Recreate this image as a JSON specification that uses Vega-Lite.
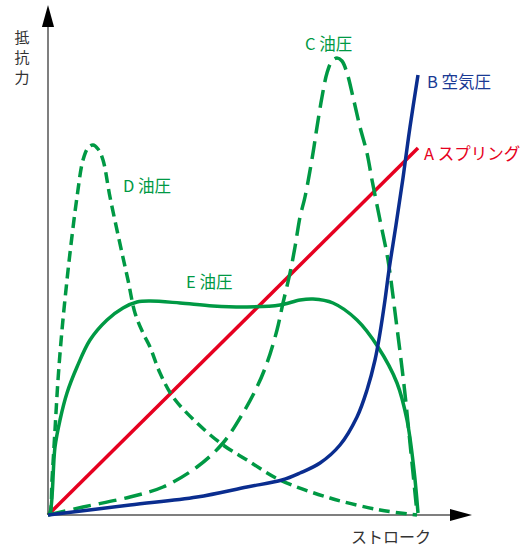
{
  "$schema": "https://vega.github.io/schema/vega-lite/v6.json",
  "width": 524,
  "height": 550,
  "autosize": {"type": "none"},
  "padding": 0,
  "view": {"stroke": null},
  "config": {"font": "Noto Sans CJK JP"},
  "datasets": {
    "curves": [
      {"s": "A", "x": 0, "y": 0}, {"s": "A", "x": 370, "y": 367},

      {"s": "B", "x": 0, "y": 0}, {"s": "B", "x": 82, "y": 10}, {"s": "B", "x": 149, "y": 18},
      {"s": "B", "x": 199, "y": 28}, {"s": "B", "x": 234, "y": 35}, {"s": "B", "x": 252, "y": 42},
      {"s": "B", "x": 272, "y": 52}, {"s": "B", "x": 292, "y": 70}, {"s": "B", "x": 309, "y": 98},
      {"s": "B", "x": 319, "y": 125}, {"s": "B", "x": 327, "y": 155}, {"s": "B", "x": 332, "y": 182},
      {"s": "B", "x": 337, "y": 215}, {"s": "B", "x": 341, "y": 245}, {"s": "B", "x": 348, "y": 290},
      {"s": "B", "x": 355, "y": 337}, {"s": "B", "x": 362, "y": 388}, {"s": "B", "x": 370, "y": 440},

      {"s": "C", "x": 0, "y": 0}, {"s": "C", "x": 35, "y": 8}, {"s": "C", "x": 82, "y": 18},
      {"s": "C", "x": 115, "y": 28}, {"s": "C", "x": 149, "y": 48}, {"s": "C", "x": 175, "y": 72},
      {"s": "C", "x": 195, "y": 102}, {"s": "C", "x": 209, "y": 128}, {"s": "C", "x": 219, "y": 152},
      {"s": "C", "x": 229, "y": 185}, {"s": "C", "x": 235, "y": 212}, {"s": "C", "x": 242, "y": 242},
      {"s": "C", "x": 247, "y": 268}, {"s": "C", "x": 252, "y": 298}, {"s": "C", "x": 257, "y": 318},
      {"s": "C", "x": 265, "y": 362}, {"s": "C", "x": 269, "y": 388}, {"s": "C", "x": 274, "y": 418},
      {"s": "C", "x": 279, "y": 442}, {"s": "C", "x": 284, "y": 454}, {"s": "C", "x": 289, "y": 457},
      {"s": "C", "x": 294, "y": 454}, {"s": "C", "x": 299, "y": 442}, {"s": "C", "x": 305, "y": 418},
      {"s": "C", "x": 312, "y": 388}, {"s": "C", "x": 319, "y": 362}, {"s": "C", "x": 324, "y": 335},
      {"s": "C", "x": 332, "y": 295}, {"s": "C", "x": 340, "y": 255}, {"s": "C", "x": 348, "y": 195},
      {"s": "C", "x": 356, "y": 130}, {"s": "C", "x": 363, "y": 62}, {"s": "C", "x": 369, "y": 2},

      {"s": "D", "x": 0, "y": 0}, {"s": "D", "x": 2, "y": 2}, {"s": "D", "x": 4, "y": 35},
      {"s": "D", "x": 7, "y": 85}, {"s": "D", "x": 10, "y": 135}, {"s": "D", "x": 14, "y": 185},
      {"s": "D", "x": 19, "y": 235}, {"s": "D", "x": 22, "y": 262}, {"s": "D", "x": 29, "y": 318},
      {"s": "D", "x": 35, "y": 355}, {"s": "D", "x": 40, "y": 367}, {"s": "D", "x": 45, "y": 370},
      {"s": "D", "x": 50, "y": 366}, {"s": "D", "x": 55, "y": 355}, {"s": "D", "x": 62, "y": 318},
      {"s": "D", "x": 74, "y": 262}, {"s": "D", "x": 80, "y": 235}, {"s": "D", "x": 87, "y": 202},
      {"s": "D", "x": 95, "y": 182}, {"s": "D", "x": 102, "y": 168}, {"s": "D", "x": 112, "y": 142},
      {"s": "D", "x": 125, "y": 118}, {"s": "D", "x": 149, "y": 92}, {"s": "D", "x": 175, "y": 70},
      {"s": "D", "x": 199, "y": 55}, {"s": "D", "x": 232, "y": 35}, {"s": "D", "x": 282, "y": 17},
      {"s": "D", "x": 332, "y": 5}, {"s": "D", "x": 369, "y": 0},

      {"s": "E", "x": 0, "y": 0}, {"s": "E", "x": 2, "y": 2}, {"s": "E", "x": 7, "y": 68},
      {"s": "E", "x": 12, "y": 95}, {"s": "E", "x": 19, "y": 122}, {"s": "E", "x": 29, "y": 148},
      {"s": "E", "x": 42, "y": 175}, {"s": "E", "x": 59, "y": 195}, {"s": "E", "x": 75, "y": 207},
      {"s": "E", "x": 89, "y": 213}, {"s": "E", "x": 102, "y": 214}, {"s": "E", "x": 132, "y": 212},
      {"s": "E", "x": 165, "y": 209}, {"s": "E", "x": 199, "y": 208}, {"s": "E", "x": 232, "y": 210},
      {"s": "E", "x": 252, "y": 215}, {"s": "E", "x": 265, "y": 216}, {"s": "E", "x": 285, "y": 212},
      {"s": "E", "x": 309, "y": 195}, {"s": "E", "x": 330, "y": 168}, {"s": "E", "x": 349, "y": 132},
      {"s": "E", "x": 359, "y": 95}, {"s": "E", "x": 366, "y": 45}, {"s": "E", "x": 370, "y": 2}
    ],
    "labels": [
      {"s": "C", "x": 257, "y": 470, "t": "C 油圧"},
      {"s": "B", "x": 379, "y": 432, "t": "B 空気圧"},
      {"s": "A", "x": 376, "y": 360, "t": "A スプリング"},
      {"s": "D", "x": 75, "y": 328, "t": "D 油圧"},
      {"s": "E", "x": 138, "y": 232, "t": "E 油圧"}
    ],
    "axes": [
      {"a": "y", "x": 0, "y": 0, "x2": 0, "y2": 490},
      {"a": "x", "x": 0, "y": 0, "x2": 405, "y2": 0}
    ],
    "arrows": [
      {"a": "y", "x": 0, "y": 499},
      {"a": "x", "x": 413, "y": 0}
    ],
    "ytitle": [
      {"x": -26, "y": 477, "t": "抵\n抗\n力"}
    ],
    "xtitle": [
      {"x": 343, "y": -23, "t": "ストローク"}
    ]
  },
  "encoding": {
    "x": {"field": "x", "type": "quantitative", "scale": {"domain": [-48, 476], "nice": false, "zero": false}, "axis": null},
    "y": {"field": "y", "type": "quantitative", "scale": {"domain": [-35, 515], "nice": false, "zero": false}, "axis": null}
  },
  "layer": [
    {
      "data": {"name": "axes"},
      "mark": {"type": "rule", "color": "#555555", "strokeWidth": 1.5},
      "encoding": {"x2": {"field": "x2"}, "y2": {"field": "y2"}}
    },
    {
      "data": {"name": "arrows"},
      "transform": [{"filter": "datum.a === 'y'"}],
      "mark": {"type": "point", "shape": "M0,-1L0.55,1L-0.55,1Z", "filled": true, "color": "#000000", "opacity": 1, "size": 484, "strokeWidth": 0}
    },
    {
      "data": {"name": "arrows"},
      "transform": [{"filter": "datum.a === 'x'"}],
      "mark": {"type": "point", "shape": "M1,0L-1,0.55L-1,-0.55Z", "filled": true, "color": "#000000", "opacity": 1, "size": 484, "strokeWidth": 0}
    },
    {
      "data": {"name": "curves"},
      "transform": [{"filter": "datum.s === 'A'"}],
      "mark": {"type": "line", "color": "#e60020", "strokeWidth": 3.5},
      "encoding": {}
    },
    {
      "data": {"name": "curves"},
      "transform": [{"filter": "datum.s === 'C'"}],
      "mark": {"type": "line", "color": "#009944", "strokeWidth": 3.5, "interpolate": "catmull-rom", "strokeDash": [18, 8]},
      "encoding": {}
    },
    {
      "data": {"name": "curves"},
      "transform": [{"filter": "datum.s === 'D'"}],
      "mark": {"type": "line", "color": "#009944", "strokeWidth": 3.5, "interpolate": "catmull-rom", "strokeDash": [11, 6]},
      "encoding": {}
    },
    {
      "data": {"name": "curves"},
      "transform": [{"filter": "datum.s === 'E'"}],
      "mark": {"type": "line", "color": "#009944", "strokeWidth": 3.5, "interpolate": "catmull-rom"},
      "encoding": {}
    },
    {
      "data": {"name": "curves"},
      "transform": [{"filter": "datum.s === 'B'"}],
      "mark": {"type": "line", "color": "#0a2d8f", "strokeWidth": 3.5, "interpolate": "catmull-rom"},
      "encoding": {}
    },
    {
      "data": {"name": "labels"},
      "mark": {"type": "text", "align": "left", "baseline": "middle", "fontSize": 16.5},
      "encoding": {
        "text": {"field": "t"},
        "color": {"field": "s", "type": "nominal", "legend": null,
          "scale": {"domain": ["A", "B", "C", "D", "E"], "range": ["#e60020", "#1a3a94", "#009944", "#009944", "#009944"]}}
      }
    },
    {
      "data": {"name": "ytitle"},
      "mark": {"type": "text", "align": "center", "baseline": "middle", "fontSize": 15, "color": "#333333", "lineBreak": "\n", "lineHeight": 20},
      "encoding": {"text": {"field": "t"}}
    },
    {
      "data": {"name": "xtitle"},
      "mark": {"type": "text", "align": "center", "baseline": "middle", "fontSize": 16, "color": "#333333"},
      "encoding": {"text": {"field": "t"}}
    }
  ]
}
